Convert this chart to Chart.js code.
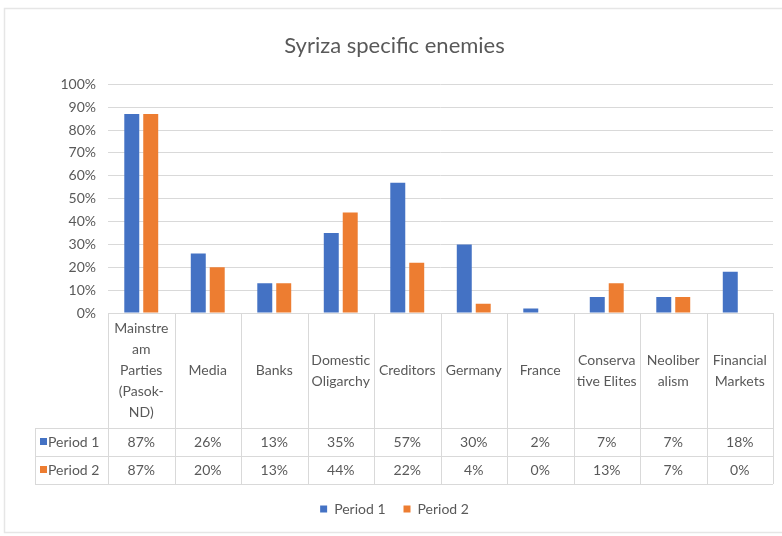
<!DOCTYPE html>
<html>
<head>
<meta charset="utf-8">
<script src="https://cdn.jsdelivr.net/npm/chart.js@4.4.1/dist/chart.umd.min.js"></script>
<style>
  html, body { margin: 0; padding: 0; background: #fff; }
  #wrap { width: 782px; height: 536px; }
</style>
</head>
<body>
<div id="wrap"><canvas id="chart"></canvas></div>
<script>
// category labels, split into the lines used in the data table
const categories = [
    ['Mainstre', 'am', 'Parties', '(Pasok-', 'ND)'],
    ['Media'],
    ['Banks'],
    ['Domestic', 'Oligarchy'],
    ['Creditors'],
    ['Germany'],
    ['France'],
    ['Conserva', 'tive Elites'],
    ['Neoliber', 'alism'],
    ['Financial', 'Markets']
];
const seriesNames = ['Period 1', 'Period 2'];
const period1 = [87, 26, 13, 35, 57, 30, 2, 7, 7, 18];
const period2 = [87, 20, 13, 44, 22, 4, 0, 13, 7, 0];
const colors = ['#4472C4', '#ED7D31'];

const textColor = '#595959';
const lineColor = '#d9d9d9';
const fontFamily = 'Lato, "Open Sans", sans-serif';
const tableHeight = 171;
const rowHeights = [115, 28, 28];

// draws the white card, its faint frame and the data table under the bars
let tablePlugin = {
    id: 'table',
    beforeDraw(chart) {
        let ctx = chart.ctx;
        ctx.save();
        ctx.fillStyle = '#fff';
        ctx.fillRect(0, 0, chart.width, chart.height);
        ctx.strokeStyle = '#e6e6e6';
        ctx.lineWidth = 1.5;
        ctx.strokeRect(4.5, 8.5, chart.width + 20, chart.height - 12);
        ctx.restore();
    },
    afterDraw(chart) {
        let ctx = chart.ctx;
        let xs = chart.scales.x;
        let area = chart.chartArea;
        let colW = xs.width / categories.length;
        let top = area.bottom;
        let y1 = top + rowHeights[0];
        let y2 = y1 + rowHeights[1];
        let y3 = y2 + rowHeights[2];
        let leftEdge = 35;
        ctx.save();
        ctx.strokeStyle = lineColor;
        ctx.lineWidth = 1;
        ctx.beginPath();
        // horizontal rules
        ctx.moveTo(area.left, top + 0.5); ctx.lineTo(area.right, top + 0.5);
        [y1, y2, y3].forEach(y => {
            ctx.moveTo(leftEdge, Math.round(y) + 0.5);
            ctx.lineTo(area.right, Math.round(y) + 0.5);
        });
        // vertical rules
        for (let i = 0; i <= categories.length; i++) {
            let x = Math.round(area.left + i * colW) + 0.5;
            ctx.moveTo(x, top); ctx.lineTo(x, y3);
        }
        ctx.moveTo(leftEdge + 0.5, y1); ctx.lineTo(leftEdge + 0.5, y3);
        ctx.stroke();

        ctx.fillStyle = textColor;
        ctx.font = '14px ' + fontFamily;
        ctx.textAlign = 'center';
        ctx.textBaseline = 'middle';
        let lh = 21;
        categories.forEach((lines, i) => {
            let cx = xs.getPixelForValue(i);
            let mid = top + rowHeights[0] / 2;
            let start = mid - (lines.length - 1) * lh / 2;
            lines.forEach((t, j) => ctx.fillText(t, cx, start + j * lh));
        });
        [period1, period2].forEach((vals, r) => {
            let cy = (r === 0 ? y1 + y2 : y2 + y3) / 2;
            vals.forEach((v, i) => {
                ctx.fillText(v + '%', xs.getPixelForValue(i), cy);
            });
            ctx.fillStyle = colors[r];
            ctx.fillRect(40, cy - 4, 7, 7);
            ctx.fillStyle = textColor;
            ctx.textAlign = 'left';
            ctx.fillText(seriesNames[r], 48, cy);
            ctx.textAlign = 'center';
        });
        ctx.restore();
    }
};

let data = {
    labels: categories.map(c => c.join(' ')),
    datasets: [
        { label: seriesNames[0], data: period1, backgroundColor: colors[0] },
        { label: seriesNames[1], data: period2, backgroundColor: colors[1] }
    ]
};

let config = {
    type: 'bar',
    data: data,
    options: {
        responsive: true,
        maintainAspectRatio: false,
        animation: false,
        datasets: {
            bar: { categoryPercentage: 0.57, barPercentage: 0.79 }
        },
        layout: { padding: { left: 16, right: 9, top: 0, bottom: 10 } },
        plugins: {
            title: {
                display: true,
                text: 'Syriza specific enemies',
                color: textColor,
                font: { family: fontFamily, size: 22, weight: 'normal' },
                padding: { top: 33, bottom: 25 }
            },
            legend: {
                position: 'bottom',
                labels: {
                    color: textColor,
                    font: { family: fontFamily, size: 14 },
                    boxWidth: 7,
                    boxHeight: 7,
                    padding: 18
                }
            },
            tooltip: { enabled: false }
        },
        scales: {
            x: {
                grid: { display: false },
                border: { display: false },
                ticks: { display: false },
                afterFit: s => { s.height = tableHeight; }
            },
            y: {
                min: 0,
                max: 100,
                afterFit: s => { s.width = 92; },
                grid: { color: lineColor, drawTicks: false },
                border: { display: false },
                ticks: {
                    stepSize: 10,
                    padding: 12,
                    color: textColor,
                    font: { family: fontFamily, size: 14 },
                    callback: v => v + '%'
                }
            }
        }
    },
    plugins: [tablePlugin]
};

new Chart(document.getElementById('chart'), config);
</script>
</body>
</html>
